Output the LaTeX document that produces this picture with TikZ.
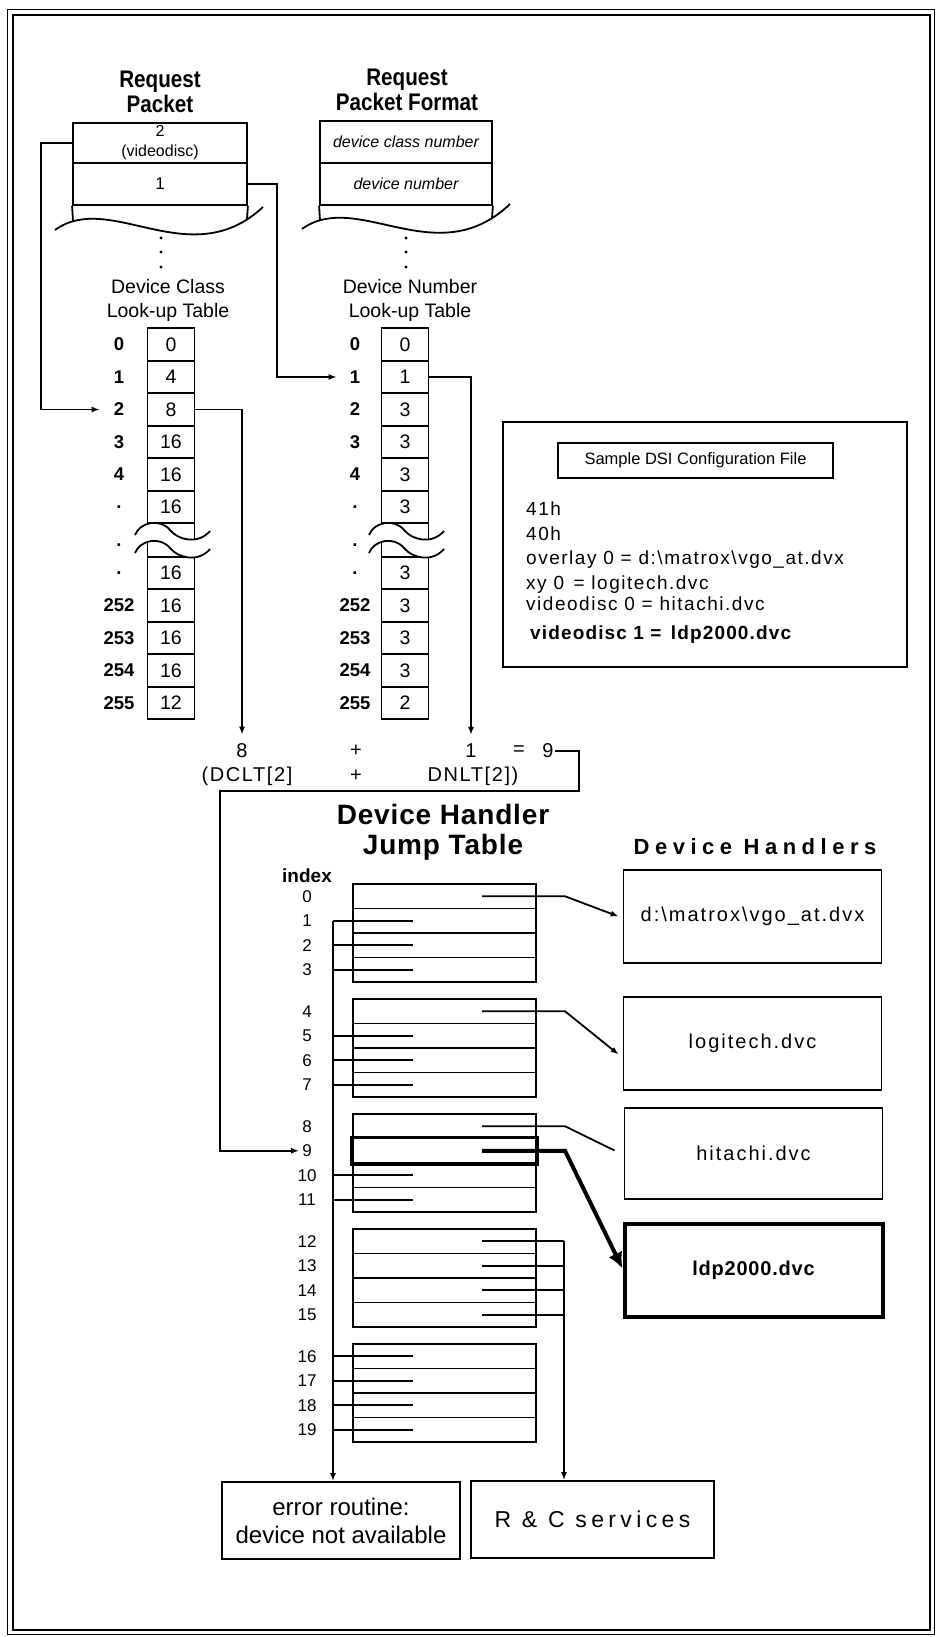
\documentclass[tikz,border=0pt]{standalone}
\usepackage{fontspec}
\setmainfont{Liberation Sans}
\newfontfamily\condb[FakeStretch=0.86]{Liberation Sans}
\usetikzlibrary{arrows.meta}
\tikzset{
  ln/.style={line width=1.8pt},
  arr/.style={line width=1.8pt,-{Latex[length=8pt,width=6pt]}},
  bigarr/.style={line width=4pt,-{Latex[length=16pt,width=15pt]}},
  head/.style={align=center,inner sep=0pt,font=\condb\bfseries\fontsize{24}{25}\selectfont},
  tabtitle/.style={align=center,inner sep=0pt,font=\fontsize{19.5}{24}\selectfont},
  cell/.style={draw,line width=1.8pt,minimum width=47pt,minimum height=32.5pt,inner sep=0pt,font=\fontsize{19.5}{19.5}\selectfont},
  idx/.style={inner sep=0pt,font=\bfseries\fontsize{18.5}{19}\selectfont},
  pk/.style={draw,line width=1.8pt,inner sep=0pt,align=center},
  sumtxt/.style={inner sep=1pt,font=\fontsize{20}{20}\selectfont\addfontfeature{LetterSpace=8}},
  jrow/.style={draw,line width=1.8pt,minimum width=183pt,minimum height=24.5pt,inner sep=0pt},
  jidx/.style={inner sep=0pt,font=\fontsize{17}{17}\selectfont},
  hbox/.style={draw,line width=1.8pt,minimum width=258pt,minimum height=93pt,inner sep=0pt,font=\fontsize{20}{20}\selectfont\addfontfeature{LetterSpace=10}},
  cfgtext/.style={inner sep=0pt,anchor=base west,font=\fontsize{19}{19}\selectfont\addfontfeature{LetterSpace=8}},
}
\begin{document}
\begin{tikzpicture}[x=1pt,y=-1pt]
\useasboundingbox (0,0) rectangle (943,1637);
\fill[white] (0,0) rectangle (943,1637);
% border
\draw[line width=1pt] (7,10) rectangle (934,1634);
\draw[line width=1.8pt] (13,15) rectangle (930,1630);

% ---------- Request Packet ----------
\node[head] (hrp) at (160,92) {Request\\Packet};
\node[pk,minimum width=174pt,minimum height=40pt,font=\fontsize{16}{20}\selectfont] (rp1) at (160,143) {2\\(videodisc)};
\node[pk,minimum width=174pt,minimum height=42pt,font=\fontsize{17}{17}\selectfont] (rp2) at (160,184) {1};
\draw[ln] (rp2.south west) -- (73,221.5);
\draw[ln] (rp2.south east) -- (247,219);
\draw[ln] (55,230) .. controls (110,190) and (190,275) .. (263,207);
\foreach \yy in {238,252,267} \fill (161,\yy) circle (1.6pt);

% ---------- Request Packet Format ----------
\node[head] (hrf) at (407,90) {Request\\Packet Format};
\node[pk,minimum width=172pt,minimum height=42pt,font=\itshape\fontsize{16}{16}\selectfont] (rf1) at (406,142) {device class number};
\node[pk,minimum width=172pt,minimum height=42pt,font=\itshape\fontsize{16}{16}\selectfont] (rf2) at (406,184) {device number};
\draw[ln] (rf2.south west) -- (320,220.5);
\draw[ln] (rf2.south east) -- (492,218);
\draw[ln] (302,229) .. controls (357,189) and (437,274) .. (510,204);
\foreach \yy in {238,252,267} \fill (406,\yy) circle (1.6pt);

% ---------- Look-up tables ----------
\node[tabtitle] (tc) at (168,300) {Device Class\\Look-up Table};
\node[tabtitle] (tn) at (410,300) {Device Number\\Look-up Table};

\foreach \v/\w/\l [count=\i from 0] in {0/0/0,4/1/1,8/3/2,16/3/3,16/3/4,16/3/.} {
  \pgfmathsetmacro\yy{344.5+32.5*\i}
  \node[cell] (c\i) at (171,\yy) {\v};
  \node[cell] (n\i) at (405,\yy) {\w};
  \node[idx] (ci\i) at (119,\yy) {\l};
  \node[idx] (ni\i) at (355,\yy) {\l};
}
\foreach \v/\w/\l [count=\i from 6] in {16/3/.,16/3/252,16/3/253,16/3/254,12/2/255} {
  \pgfmathsetmacro\yy{573.2+32.4*(\i-6)}
  \node[cell] (c\i) at (171,\yy) {\v};
  \node[cell] (n\i) at (405,\yy) {\w};
  \node[idx] (ci\i) at (119,\yy) {\l};
  \node[idx] (ni\i) at (355,\yy) {\l};
}
\node[idx] (cib) at (119,545) {.};
\node[idx] (nib) at (355,545) {.};

% break symbols
\foreach \dx in {0,234} {
  \begin{scope}[xshift=\dx]
    \draw[ln] (147.5,523) -- (147.5,557) (194.5,523) -- (194.5,557);
    \fill[white] (135,535) .. controls (140,522) and (160,518) .. (170,530)
       .. controls (178,540) and (198,545) .. (210,531) -- (210,549)
       .. controls (198,563) and (178,558) .. (170,548)
       .. controls (160,536) and (140,540) .. (135,553) -- cycle;
    \draw[ln] (135,535) .. controls (140,522) and (160,518) .. (170,530)
       .. controls (178,540) and (198,545) .. (210,531);
    \draw[ln] (135,553) .. controls (140,540) and (160,536) .. (170,548)
       .. controls (178,558) and (198,563) .. (210,549);
  \end{scope}
}

% arrows from request packet into tables
\draw[arr] (rp1.west) -- ++(-31,0) |- ([xshift=-14pt]ci2.west);
\draw[arr] (rp2.east) -- ++(29,0) |- ([xshift=-13pt]ni1.west);

% ---------- sum ----------
\node[sumtxt] (s8) at (242,751) {8};
\node[sumtxt] (sp1) at (356,751) {+};
\node[sumtxt] (s1) at (471,751) {1};
\node[sumtxt] (seq) at (519,751) {=};
\node[sumtxt] (s9) at (548,751) {9};
\node[sumtxt] (dclt) at (247,776) {(DCLT[2]};
\node[sumtxt] (sp2) at (356,776) {+};
\node[sumtxt] (dnlt) at (473,776) {DNLT[2])};
\draw[arr] (c2.east) -| ([yshift=8pt]s8.north);
\draw[arr] (n1.east) -| ([yshift=8pt]s1.north);

% ---------- Jump table ----------
\node[align=center,inner sep=0pt,font=\bfseries\fontsize{28}{30}\selectfont\addfontfeature{LetterSpace=3}] (hjt) at (443,832) {Device Handler\\Jump Table};
\node[inner sep=0pt,font=\bfseries\fontsize{19}{19}\selectfont] (hidx) at (307,876) {index};
\foreach \g in {0,...,4} {
  \foreach \r in {0,...,3} {
    \pgfmathtruncatemacro\k{4*\g+\r}
    \pgfmathsetmacro\yy{884+115*\g+12.25+24.5*\r}
    \node[jrow] (jr\k) at (444.5,\yy) {};
    \node[jidx] (j\k) at (307,\yy) {\k};
  }
}
\draw[line width=3.5pt] (jr9.north west) rectangle (jr9.south east);

% ---------- Device handlers ----------
\node[inner sep=0pt,font=\bfseries\fontsize{22}{22}\selectfont\addfontfeature{LetterSpace=25}] (hdh) at (755,847) {Device Handlers};
\node[hbox] (h1) at (752.5,916.5) {d:\textbackslash matrox\textbackslash vgo\_at.dvx};
\node[hbox] (h2) at (752.5,1043.5) {logitech.dvc};
\node[hbox,minimum height=91pt] (h3) at (753.5,1153.5) {hitachi.dvc};
\node[hbox,line width=4pt,font=\bfseries\fontsize{20}{20}\selectfont\addfontfeature{LetterSpace=4}] (h4) at (753.5,1270.5) {ldp2000.dvc};

% ---------- bottom boxes ----------
\node[draw,line width=1.8pt,minimum width=238pt,minimum height=77pt,inner sep=0pt,align=center,font=\fontsize{24}{28}\selectfont] (err) at (341,1520.5) {error routine:\\device not available};
\node[draw,line width=1.8pt,minimum width=243pt,minimum height=77pt,inner sep=0pt,font=\fontsize{23}{23}\selectfont\addfontfeature{LetterSpace=19}] (rc) at (592.5,1519.5) {R \& C services};

% ---------- jump-table connectors ----------
\coordinate (eb) at (333,0);
\coordinate (rx) at (482,0);
\coordinate (cx) at (565,0);
\coordinate (rcb) at (564,0);
\foreach \k in {1,2,3,5,6,7,10,11,16,17,18,19}
  \draw[ln] (eb |- jr\k.center) -- ++(80,0);
\draw[arr] (eb |- jr1.center) -- (eb |- err.north);
\draw[arr] (rx |- jr0.center) -- (cx |- jr0.center) -- ([xshift=-4pt]h1.west);
\draw[arr] (rx |- jr4.center) -- (cx |- jr4.center) -- ([xshift=-4pt,yshift=-11pt]h2.west);
\draw[ln] (rx |- jr8.center) -- (cx |- jr8.center) -- ([xshift=-9pt,yshift=3pt]h3.west);
\draw[bigarr] (rx |- jr9.center) -- (cx |- jr9.center) -- ([yshift=2pt]h4.west);
\foreach \k in {12,...,15}
  \draw[ln] (rx |- jr\k.center) -- (rcb |- jr\k.center);
\draw[arr] (rcb |- jr12.center) -- (rcb |- rc.north);
\draw[arr] (s9.east) -- ++(24,0) |- (220,791) |- ([xshift=-3pt]j9.west);

% ---------- Config file ----------
\node[draw,line width=1.8pt,minimum width=404pt,minimum height=245pt,inner sep=0pt] (cfg) at (705,544.5) {};
\node[draw,line width=1.8pt,minimum width=275pt,minimum height=35pt,inner sep=0pt,font=\fontsize{16.5}{16.5}\selectfont] (cfgt) at (695.5,460.5) {Sample DSI Configuration File};
\node[cfgtext] (l1) at (526,515) {41h};
\node[cfgtext] (l2) at (526,540) {40h};
\node[cfgtext] (l3) at (526,564) {overlay 0 = d:\textbackslash matrox\textbackslash vgo\_at.dvx};
\node[cfgtext] (l4) at (526,589) {xy 0\enspace = logitech.dvc};
\node[cfgtext] (l5) at (526,610) {videodisc 0 = hitachi.dvc};
\node[cfgtext,font=\bfseries\fontsize{19}{19}\selectfont\addfontfeature{LetterSpace=6}] (l6) at (530,639) {videodisc 1 =\enspace ldp2000.dvc};
\end{tikzpicture}
\end{document}
